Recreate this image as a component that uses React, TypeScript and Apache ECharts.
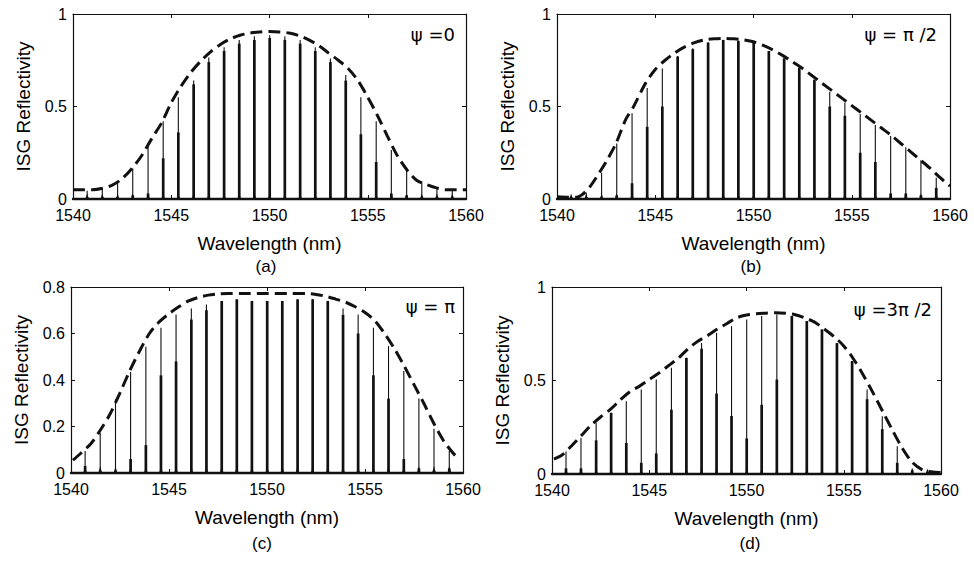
import React, { useEffect, useRef } from "react";
import * as echarts from "echarts";

// ---------- data ----------
const X_TICKS = [1540, 1545, 1550, 1555, 1560];
const Y_TICKS_ABD = [0, 0.5, 1];
const Y_TICKS_C = [0, 0.2, 0.4, 0.6, 0.8];

const WAVELENGTHS = [
  1540.72, 1541.49, 1542.27, 1543.04, 1543.82, 1544.59, 1545.36, 1546.14, 1546.91, 1547.69,
  1548.46, 1549.23, 1550.01, 1550.78, 1551.56, 1552.33, 1553.1, 1553.88, 1554.65, 1555.43,
  1556.2, 1556.98, 1557.75, 1558.52, 1559.3,
];

// peak (thin spike) heights and core (thick part) heights per panel
const PEAK_A = [0.045, 0.06, 0.09, 0.165, 0.3, 0.42, 0.55, 0.64, 0.765, 0.82, 0.86, 0.88, 0.885, 0.88, 0.86, 0.82, 0.76, 0.67, 0.55, 0.42, 0.265, 0.157, 0.094, 0.058, 0.05];
const CORE_A = [0.01, 0.01, 0.01, 0.02, 0.03, 0.22, 0.36, 0.62, 0.74, 0.8, 0.84, 0.86, 0.87, 0.86, 0.84, 0.8, 0.74, 0.64, 0.35, 0.2, 0.03, 0.02, 0.01, 0.01, 0.01];

const PEAK_B = [0.015, 0.034, 0.142, 0.3, 0.463, 0.6, 0.706, 0.773, 0.815, 0.848, 0.86, 0.855, 0.845, 0.8, 0.76, 0.71, 0.645, 0.58, 0.52, 0.46, 0.4, 0.34, 0.28, 0.21, 0.115];
const CORE_B = [0.01, 0.01, 0.01, 0.02, 0.085, 0.39, 0.5, 0.77, 0.81, 0.845, 0.86, 0.855, 0.845, 0.8, 0.76, 0.71, 0.645, 0.5, 0.45, 0.25, 0.2, 0.03, 0.03, 0.02, 0.06];

const PEAK_C = [0.095, 0.173, 0.317, 0.434, 0.543, 0.625, 0.682, 0.707, 0.725, 0.74, 0.747, 0.74, 0.74, 0.74, 0.747, 0.747, 0.74, 0.707, 0.682, 0.625, 0.546, 0.439, 0.32, 0.19, 0.095];
const CORE_C = [0.03, 0.01, 0.01, 0.06, 0.12, 0.42, 0.48, 0.66, 0.7, 0.74, 0.747, 0.74, 0.74, 0.74, 0.747, 0.747, 0.74, 0.68, 0.6, 0.42, 0.32, 0.06, 0.02, 0.01, 0.02];

const PEAK_D = [0.12, 0.193, 0.273, 0.327, 0.389, 0.452, 0.505, 0.568, 0.621, 0.7, 0.755, 0.791, 0.826, 0.845, 0.853, 0.845, 0.818, 0.773, 0.7, 0.604, 0.452, 0.309, 0.148, 0.03, 0.01];
const CORE_D = [0.03, 0.03, 0.18, 0.327, 0.166, 0.06, 0.11, 0.344, 0.621, 0.67, 0.43, 0.31, 0.19, 0.37, 0.505, 0.845, 0.818, 0.773, 0.7, 0.604, 0.4, 0.24, 0.06, 0.02, 0.01];

// dashed envelopes [wavelength, reflectivity]
const ENV_A = [
  [1540, 0.05], [1540.5, 0.05], [1541, 0.05], [1541.5, 0.058], [1542, 0.075], [1542.5, 0.11], [1543, 0.165],
  [1543.5, 0.235], [1544, 0.325], [1544.5, 0.41], [1545, 0.52], [1545.5, 0.61], [1546, 0.685], [1546.5, 0.745],
  [1547, 0.795], [1547.5, 0.835], [1548, 0.865], [1548.5, 0.885], [1549, 0.897], [1549.5, 0.903], [1550, 0.905],
  [1550.5, 0.903], [1551, 0.897], [1551.5, 0.883], [1552, 0.86], [1552.5, 0.83], [1553, 0.79], [1553.5, 0.75],
  [1554, 0.705], [1554.5, 0.64], [1555, 0.55], [1555.5, 0.45], [1556, 0.34], [1556.5, 0.235], [1557, 0.157],
  [1557.5, 0.1], [1558, 0.078], [1558.5, 0.06], [1559, 0.05], [1559.5, 0.05], [1560, 0.05],
];
const ENV_B = [
  [1540, 0.012], [1540.5, 0.01], [1541, 0.01], [1541.3, 0.025], [1541.7, 0.07], [1542.2, 0.15], [1542.6, 0.22],
  [1543, 0.3], [1543.5, 0.43], [1543.9, 0.5], [1544.5, 0.625], [1545, 0.7], [1545.5, 0.75], [1546, 0.79],
  [1546.5, 0.822], [1547, 0.845], [1547.5, 0.86], [1548, 0.866], [1548.5, 0.868], [1549, 0.866], [1549.5, 0.86],
  [1550, 0.85], [1550.5, 0.83], [1551, 0.805], [1551.5, 0.775], [1552, 0.74], [1552.5, 0.705], [1553, 0.665],
  [1553.5, 0.625], [1554, 0.585], [1554.5, 0.545], [1555, 0.505], [1555.5, 0.465], [1556, 0.425], [1556.5, 0.385],
  [1557, 0.345], [1557.5, 0.3], [1558, 0.255], [1558.5, 0.21], [1559, 0.165], [1559.5, 0.115], [1560, 0.07],
];
const ENV_C = [
  [1540.1, 0.055], [1540.5, 0.085], [1541, 0.125], [1541.5, 0.185], [1542, 0.255], [1542.5, 0.345], [1543, 0.44],
  [1543.5, 0.525], [1544, 0.6], [1544.5, 0.65], [1545, 0.685], [1545.5, 0.715], [1546, 0.74], [1546.5, 0.755],
  [1547, 0.765], [1547.5, 0.77], [1548, 0.772], [1549, 0.772], [1550, 0.772], [1551, 0.772], [1552, 0.772],
  [1552.5, 0.768], [1553, 0.76], [1553.5, 0.748], [1554, 0.735], [1554.5, 0.715], [1555, 0.69], [1555.5, 0.655],
  [1556, 0.6], [1556.5, 0.535], [1557, 0.46], [1557.5, 0.38], [1558, 0.3], [1558.5, 0.215], [1559, 0.14],
  [1559.5, 0.085], [1559.8, 0.06],
];
const ENV_D = [
  [1540.1, 0.08], [1540.5, 0.1], [1541, 0.15], [1541.5, 0.205], [1542, 0.26], [1542.5, 0.305], [1543, 0.345],
  [1543.5, 0.395], [1544, 0.44], [1544.5, 0.47], [1545, 0.505], [1545.5, 0.54], [1546, 0.58], [1546.5, 0.62],
  [1547, 0.67], [1547.5, 0.71], [1548, 0.74], [1548.5, 0.775], [1549, 0.805], [1549.5, 0.835], [1550, 0.85],
  [1550.5, 0.857], [1551, 0.86], [1551.5, 0.862], [1552, 0.86], [1552.5, 0.852], [1553, 0.835], [1553.5, 0.812],
  [1554, 0.775], [1554.5, 0.735], [1555, 0.685], [1555.5, 0.615], [1556, 0.53], [1556.5, 0.435], [1557, 0.335],
  [1557.5, 0.235], [1558, 0.14], [1558.5, 0.065], [1559, 0.025], [1559.5, 0.012], [1560, 0.008],
];

const PSI_LABELS = ["ψ =0", "ψ = π /2", "ψ = π", "ψ =3π /2"];
const CAPTIONS = ["(a)", "(b)", "(c)", "(d)"];
const X_NAME = "Wavelength (nm)";
const Y_NAME = "ISG Reflectivity";

// ---------- layout ----------
const PANELS = [
  { peaks: PEAK_A, cores: CORE_A, env: ENV_A, yTicks: Y_TICKS_ABD, grid: { left: 73, top: 14, width: 393, height: 185 }, psiPos: [455, 35], capPos: [266, 266] },
  { peaks: PEAK_B, cores: CORE_B, env: ENV_B, yTicks: Y_TICKS_ABD, grid: { left: 557, top: 14, width: 393, height: 185 }, psiPos: [937, 35], capPos: [751, 266] },
  { peaks: PEAK_C, cores: CORE_C, env: ENV_C, yTicks: Y_TICKS_C, grid: { left: 71, top: 287, width: 392, height: 186 }, psiPos: [455, 307], capPos: [262, 543] },
  { peaks: PEAK_D, cores: CORE_D, env: ENV_D, yTicks: Y_TICKS_ABD, grid: { left: 552, top: 287, width: 389, height: 187 }, psiPos: [932, 310], capPos: [750, 543] },
];

const FONT = "Liberation Sans, Arial, sans-serif";
const INK = "#111";

function renderPeak(params: any, api: any) {
  const x = api.value(0);
  const h = api.value(1);
  const c = api.value(2);
  const p0 = api.coord([x, 0]);
  const p1 = api.coord([x, h]);
  const pc = api.coord([x, c]);
  const bl = api.coord([x - 0.09, 0]);
  const br = api.coord([x + 0.09, 0]);
  const bt = api.coord([x, 0.03]);
  return {
    type: "group",
    children: [
      { type: "line", shape: { x1: p0[0], y1: p0[1], x2: p1[0], y2: p1[1] }, style: { stroke: INK, lineWidth: 1.1 } },
      { type: "line", shape: { x1: p0[0], y1: p0[1], x2: pc[0], y2: pc[1] }, style: { stroke: INK, lineWidth: 2.7 } },
      { type: "polygon", shape: { points: [bl, bt, br] }, style: { fill: INK } },
    ],
  };
}

const plain = (v: number) => String(v);

export default function App() {
  const ref = useRef<HTMLDivElement>(null);

  useEffect(() => {
    if (!ref.current) return;
    const chart = echarts.init(ref.current, undefined, { renderer: "svg" });

    const grids: any[] = [];
    const xAxes: any[] = [];
    const yAxes: any[] = [];
    const series: any[] = [];
    const graphics: any[] = [];

    PANELS.forEach((p, i) => {
      const ymax = p.yTicks[p.yTicks.length - 1];
      const yint = p.yTicks[1] - p.yTicks[0];
      grids.push({ ...p.grid, containLabel: false });
      const tick = { show: true, inside: true, length: 4, lineStyle: { color: INK, width: 1 } };
      xAxes.push({
        type: "value", gridIndex: i, position: "bottom", min: X_TICKS[0], max: X_TICKS[X_TICKS.length - 1],
        interval: X_TICKS[1] - X_TICKS[0],
        axisLine: { show: true, onZero: false, lineStyle: { color: INK, width: 2.4 } },
        axisTick: tick, splitLine: { show: false },
        axisLabel: { color: "#000", fontSize: 16, fontFamily: FONT, margin: 8, formatter: plain },
        name: X_NAME, nameLocation: "middle", nameGap: 35,
        nameTextStyle: { color: "#000", fontSize: 19, fontFamily: FONT },
      });
      xAxes.push({
        type: "value", gridIndex: i, position: "top", min: X_TICKS[0], max: X_TICKS[X_TICKS.length - 1],
        interval: X_TICKS[1] - X_TICKS[0],
        axisLine: { show: true, onZero: false, lineStyle: { color: INK, width: 1.2 } },
        axisTick: tick, axisLabel: { show: false }, splitLine: { show: false },
      });
      yAxes.push({
        type: "value", gridIndex: i, position: "left", min: 0, max: ymax, interval: yint,
        axisLine: { show: true, onZero: false, lineStyle: { color: INK, width: 1.2 } },
        axisTick: tick, splitLine: { show: false },
        axisLabel: { color: "#000", fontSize: 16, fontFamily: FONT, margin: 6, formatter: plain },
        name: Y_NAME, nameLocation: "middle", nameGap: 40, nameRotate: 90,
        nameTextStyle: { color: "#000", fontSize: 19, fontFamily: FONT },
      });
      yAxes.push({
        type: "value", gridIndex: i, position: "right", min: 0, max: ymax, interval: yint,
        axisLine: { show: true, onZero: false, lineStyle: { color: INK, width: 1.2 } },
        axisTick: tick, axisLabel: { show: false }, splitLine: { show: false },
      });

      series.push({
        type: "custom",
        xAxisIndex: i * 2,
        yAxisIndex: i * 2,
        renderItem: renderPeak,
        encode: { x: 0, y: 1 },
        data: WAVELENGTHS.map((w, k) => [w, p.peaks[k], p.cores[k]]),
        z: 2,
      });
      series.push({
        type: "line",
        xAxisIndex: i * 2,
        yAxisIndex: i * 2,
        data: p.env,
        smooth: 0.3,
        symbol: "none",
        lineStyle: { color: INK, width: 3, type: [12, 6] },
        z: 3,
      });

      graphics.push({
        type: "text", right: 974 - p.psiPos[0], top: p.psiPos[1] - 10,
        style: { text: PSI_LABELS[i], fontSize: 18, fontFamily: "DejaVu Sans, sans-serif", fill: "#000" },
      });
      graphics.push({
        type: "text", x: p.capPos[0], y: p.capPos[1],
        style: { text: CAPTIONS[i], fontSize: 17, fontFamily: FONT, fill: "#000", align: "center", verticalAlign: "middle" },
      });
    });

    chart.setOption({
      animation: false,
      backgroundColor: "#fff",
      grid: grids,
      xAxis: xAxes,
      yAxis: yAxes,
      series,
      graphic: graphics,
    });

    return () => chart.dispose();
  }, []);

  return (
    <div
      ref={ref}
      style={{ position: "fixed", left: 0, top: 0, width: 974, height: 561, background: "#fff" }}
    />
  );
}
